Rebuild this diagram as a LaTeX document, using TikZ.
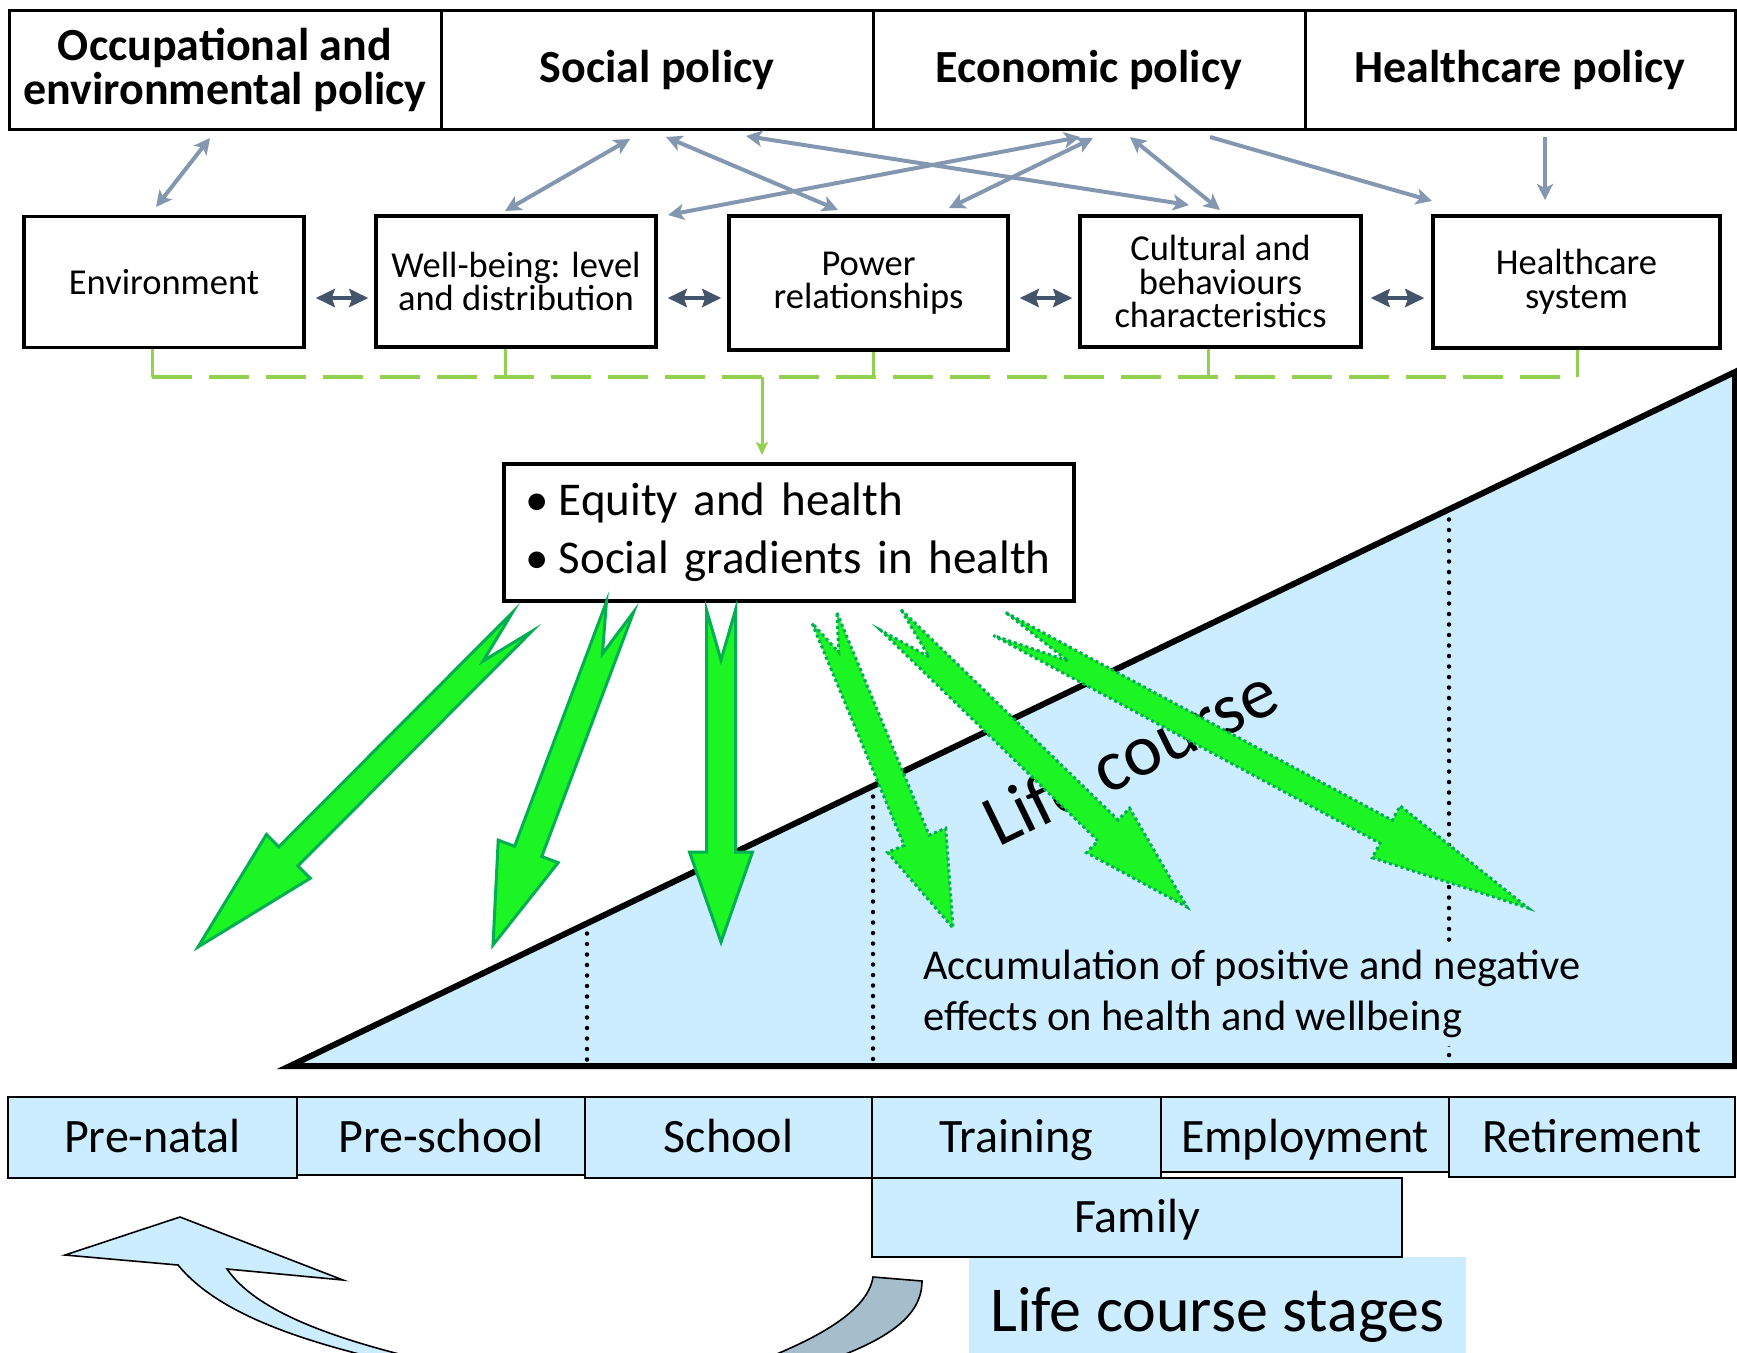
\documentclass[tikz,border=0pt]{standalone}
\usepackage{fontspec}
\setmainfont{Carlito}
\usetikzlibrary{arrows.meta,calc}
\definecolor{lblue}{RGB}{204,236,255}
\definecolor{steel}{RGB}{132,151,176}
\definecolor{slate}{RGB}{68,84,106}
\definecolor{lgreen}{RGB}{146,208,80}
\definecolor{bgreen}{RGB}{28,245,36}
\definecolor{dgreen}{RGB}{0,176,80}
\definecolor{grayblue}{RGB}{166,189,204}
% #1 style, #2 tail, #3 tip, #4 half shaft, #5 half head, #6 head length, #7 notch
\newcommand\greenarrow[7]{%
  \coordinate (ga-h) at ($(#3)!#6!(#2)$);
  \filldraw[#1] ($(#2)!#4!90:(#3)$) -- ($(ga-h)!#4!90:(#3)$) -- ($(ga-h)!#5!90:(#3)$) -- (#3)
    -- ($(ga-h)!#5!-90:(#3)$) -- ($(ga-h)!#4!-90:(#3)$) -- ($(#2)!#4!-90:(#3)$) -- ($(#2)!#7!(#3)$) -- cycle;
}
\tikzset{
  pol/.style={draw, line width=3pt, minimum width=432pt, minimum height=119pt, align=center, inner sep=2pt,
    font=\fontsize{46}{44}\selectfont\bfseries},
  fac/.style={draw, line width=3.5pt, minimum width=280pt, minimum height=131pt, align=center, inner sep=2pt,
    font=\fontsize{36.5}{33.5}\selectfont},
  stage/.style={draw, fill=lblue, line width=2.5pt, minimum height=81pt, inner sep=0pt,
    text height=36pt, text depth=6pt, font=\fontsize{48}{50}\selectfont},
  parrow/.style={draw=steel, line width=4pt,
    {Stealth[length=16pt,width=16pt,inset=4pt]}-{Stealth[length=16pt,width=16pt,inset=4pt]}},
  parrowone/.style={draw=steel, line width=4pt, -{Stealth[length=16pt,width=16pt,inset=4pt]}},
  harrow/.style={draw=slate, line width=4.5pt,
    {Stealth[length=19pt,width=18pt,inset=3pt]}-{Stealth[length=19pt,width=18pt,inset=3pt]}},
  gline/.style={draw=lgreen, line width=4pt},
  solidgreen/.style={fill=bgreen, draw=dgreen, line width=3pt, line join=miter},
  dotgreen/.style={fill=bgreen, draw=dgreen, line width=3pt, dash pattern=on 3pt off 3pt, line join=miter},
  dottedline/.style={draw=black, line width=4.5pt, line cap=round, dash pattern=on 0pt off 10.5pt},
  curvearrow/.style={draw=black, line width=1.6pt, line join=miter}
}
\begin{document}
\begin{tikzpicture}[x=1pt,y=-1pt]
\clip (0,0) rectangle (1737,1352);
\fill[white] (0,0) rectangle (1737,1352);

% ---------- life course triangle ----------
\coordinate (tl) at (290,1066);
\coordinate (ttr) at (1735,372);
\coordinate (tbr) at (1735,1066);
\fill[lblue] (tl) -- (ttr) -- (tbr) -- cycle;
\coordinate (d1a) at (587,923);  \coordinate (d1b) at (587,1066);
\coordinate (d2a) at (873,786);  \coordinate (d2b) at (873,1066);
\coordinate (d3a) at (1449,509); \coordinate (d3b) at (1449,1066);
\draw[dottedline] (d1a) -- (d1b);
\draw[dottedline] (d2a) -- (d2b);
\draw[dottedline] (d3a) -- (d3b);
\draw[line width=6pt, line join=miter] (tl) -- (ttr) -- (tbr) -- cycle;

\node[fill=lblue, anchor=west, inner sep=8pt, align=left, font=\fontsize{42.5}{51}\selectfont] (acc)
  at (915,994) {Accumulation of positive and negative\\effects on health and wellbeing};
\node[rotate=26, anchor=base west, inner sep=0pt, font=\fontsize{73}{80}\selectfont] (lc)
  at (998,848) {Life course};

% ---------- policies ----------
\node[pol] (occ) at (225,69.5) {Occupational and\\environmental policy};
\node[pol] (soc) at (657,69.5) {Social policy};
\node[pol] (eco) at (1089,69.5) {Economic policy};
\node[pol, minimum width=430pt] (hcp) at (1520,69.5) {Healthcare policy};

% ---------- factors ----------
\node[fac] (env) at (164,282) {Environment};
\node[fac] (wb) at (516,281.5) {Well-being: level\\and distribution};
\node[fac, minimum width=279pt, minimum height=134pt] (pow) at (868.5,283) {Power\\relationships};
\node[fac, minimum width=281pt] (cul) at (1220.5,281.5) {Cultural and\\behaviours\\characteristics};
\node[fac, minimum width=287pt, minimum height=132pt] (hs) at (1576.5,282) {Healthcare\\system};

% ---------- policy arrows ----------
\coordinate (a1s) at (210,138);  \coordinate (a1e) at (156,207);
\coordinate (a2s) at (630,139);  \coordinate (a2e) at (505,211);
\coordinate (a3s) at (666,137);  \coordinate (a3e) at (838,210);
\coordinate (a4s) at (746,136);  \coordinate (a4e) at (1189,205);
\coordinate (a5s) at (1080,137); \coordinate (a5e) at (668,215);
\coordinate (a6s) at (1093,138); \coordinate (a6e) at (949,208);
\coordinate (a7s) at (1130,137); \coordinate (a7e) at (1220,210);
\coordinate (a8s) at (1210,137); \coordinate (a8e) at (1432,201);
\coordinate (a9s) at (1545,137); \coordinate (a9e) at (1545,200);
\draw[parrow] (a1s) -- (a1e);
\draw[parrow] (a2s) -- (a2e);
\draw[parrow] (a3s) -- (a3e);
\draw[parrow] (a4s) -- (a4e);
\draw[parrow] (a5s) -- (a5e);
\draw[parrow] (a6s) -- (a6e);
\draw[parrow] (a7s) -- (a7e);
\draw[parrowone] (a8s) -- (a8e);
\draw[parrowone] (a9s) -- (a9e);

% ---------- horizontal arrows ----------
\coordinate (hy) at (0,298);
\draw[harrow, shorten <=10pt, shorten >=6pt] (env.east |- hy) -- (wb.west |- hy);
\draw[harrow, shorten <=10pt, shorten >=6pt] (wb.east |- hy) -- (pow.west |- hy);
\draw[harrow, shorten <=10pt, shorten >=6pt] (pow.east |- hy) -- (cul.west |- hy);
\draw[harrow, shorten <=8pt, shorten >=7pt] (cul.east |- hy) -- (hs.west |- hy);

% ---------- green connector ----------
\coordinate (g1) at (152,377);
\coordinate (g2) at (505,377);
\coordinate (g3) at (873,377);
\coordinate (g4) at (1208,377);
\coordinate (g5) at (1577,377);
\coordinate (gm) at (762,377);
\draw[gline, line width=3pt] (g1 |- env.south) -- (g1);
\draw[gline, line width=3pt] (g2 |- wb.south) -- (g2);
\draw[gline, line width=3pt] (g3 |- pow.south) -- (g3);
\draw[gline, line width=3pt] (g4 |- cul.south) -- (g4);
\draw[gline, line width=3pt] (g5 |- hs.south) -- (g5);
\draw[gline, dash pattern=on 40pt off 17pt] (g1) -- (g5);

% ---------- equity box ----------
\node[draw, line width=3.5pt, anchor=north west, minimum width=570pt, minimum height=137pt,
  text width=526pt, inner xsep=22pt, inner ysep=0pt, align=left, font=\fontsize{47}{58}\selectfont] (eq)
  at (502,462) {\mbox{\makebox[33pt][l]{•}Equity and health}\\\mbox{\makebox[33pt][l]{•}Social gradients in health}};
\draw[gline, line width=3pt, -{Stealth[length=13pt,width=12pt,inset=3pt]}, shorten >=7pt] (gm) -- (gm |- eq.north);

% ---------- green block arrows ----------
\coordinate (t1) at (522,622);   \coordinate (p1) at (198,947);
\coordinate (t2) at (620,607);   \coordinate (p2) at (493,945);
\coordinate (t3) at (721,610);   \coordinate (p3) at (721,942);
\coordinate (t4) at (824.5,618); \coordinate (p4) at (953,928);
\coordinate (t5) at (891,620);   \coordinate (p5) at (1187,907);
\coordinate (t6) at (999.5,624); \coordinate (p6) at (1528,908);
\greenarrow{solidgreen}{t1}{p1}{13.5pt}{31pt}{128pt}{55pt}
\greenarrow{solidgreen}{t2}{p2}{14.5pt}{32pt}{100pt}{50pt}
\greenarrow{solidgreen}{t3}{p3}{14.5pt}{31.5pt}{90pt}{50pt}
\greenarrow{dotgreen}{t4}{p4}{13.5pt}{31.5pt}{95pt}{37pt}
\greenarrow{dotgreen}{t5}{p5}{14.5pt}{31pt}{110pt}{53pt}
\greenarrow{dotgreen}{t6}{p6}{13pt}{29.5pt}{161pt}{78pt}

% ---------- life course stages ----------
\node[fill=lblue, inner sep=0pt, anchor=base, minimum width=497pt, text height=74pt, text depth=40pt,
  font=\fontsize{64}{70}\selectfont] (lcs) at (1217.5,1331) {Life course stages};
\node[stage, minimum width=289pt] (pn) at (152.5,1137.5) {Pre-natal};
\node[stage, minimum width=288pt, minimum height=78pt, text height=37.5pt, text depth=4.5pt] (ps) at (441,1136) {Pre-school};
\node[stage, minimum width=287pt] (sc) at (728.5,1137.5) {School};
\node[stage, minimum width=289pt] (tr) at (1016.5,1137.5) {Training};
\node[stage, minimum width=288pt, minimum height=75pt, text height=39pt, text depth=3pt] (em) at (1305,1134.5) {Employment};
\node[stage, minimum width=286pt, minimum height=80pt] (re) at (1592,1137) {Retirement};
\node[stage, minimum width=530pt, minimum height=79pt] (fa) at (1137,1217.5) {Family};

% ---------- cycle arrows ----------
\filldraw[curvearrow, fill=lblue] (65,1255) -- (180,1217) -- (343,1280) -- (227,1269)
  .. controls (255,1310) and (330,1340) .. (450,1366) -- (410,1366)
  .. controls (290,1340) and (215,1310) .. (178,1265) -- cycle;
\filldraw[curvearrow, fill=grayblue] (873,1277) -- (922,1281)
  .. controls (922,1320) and (880,1345) .. (800,1370) -- (735,1370)
  .. controls (820,1340) and (868,1310) .. (873,1277) -- cycle;
\end{tikzpicture}
\end{document}
